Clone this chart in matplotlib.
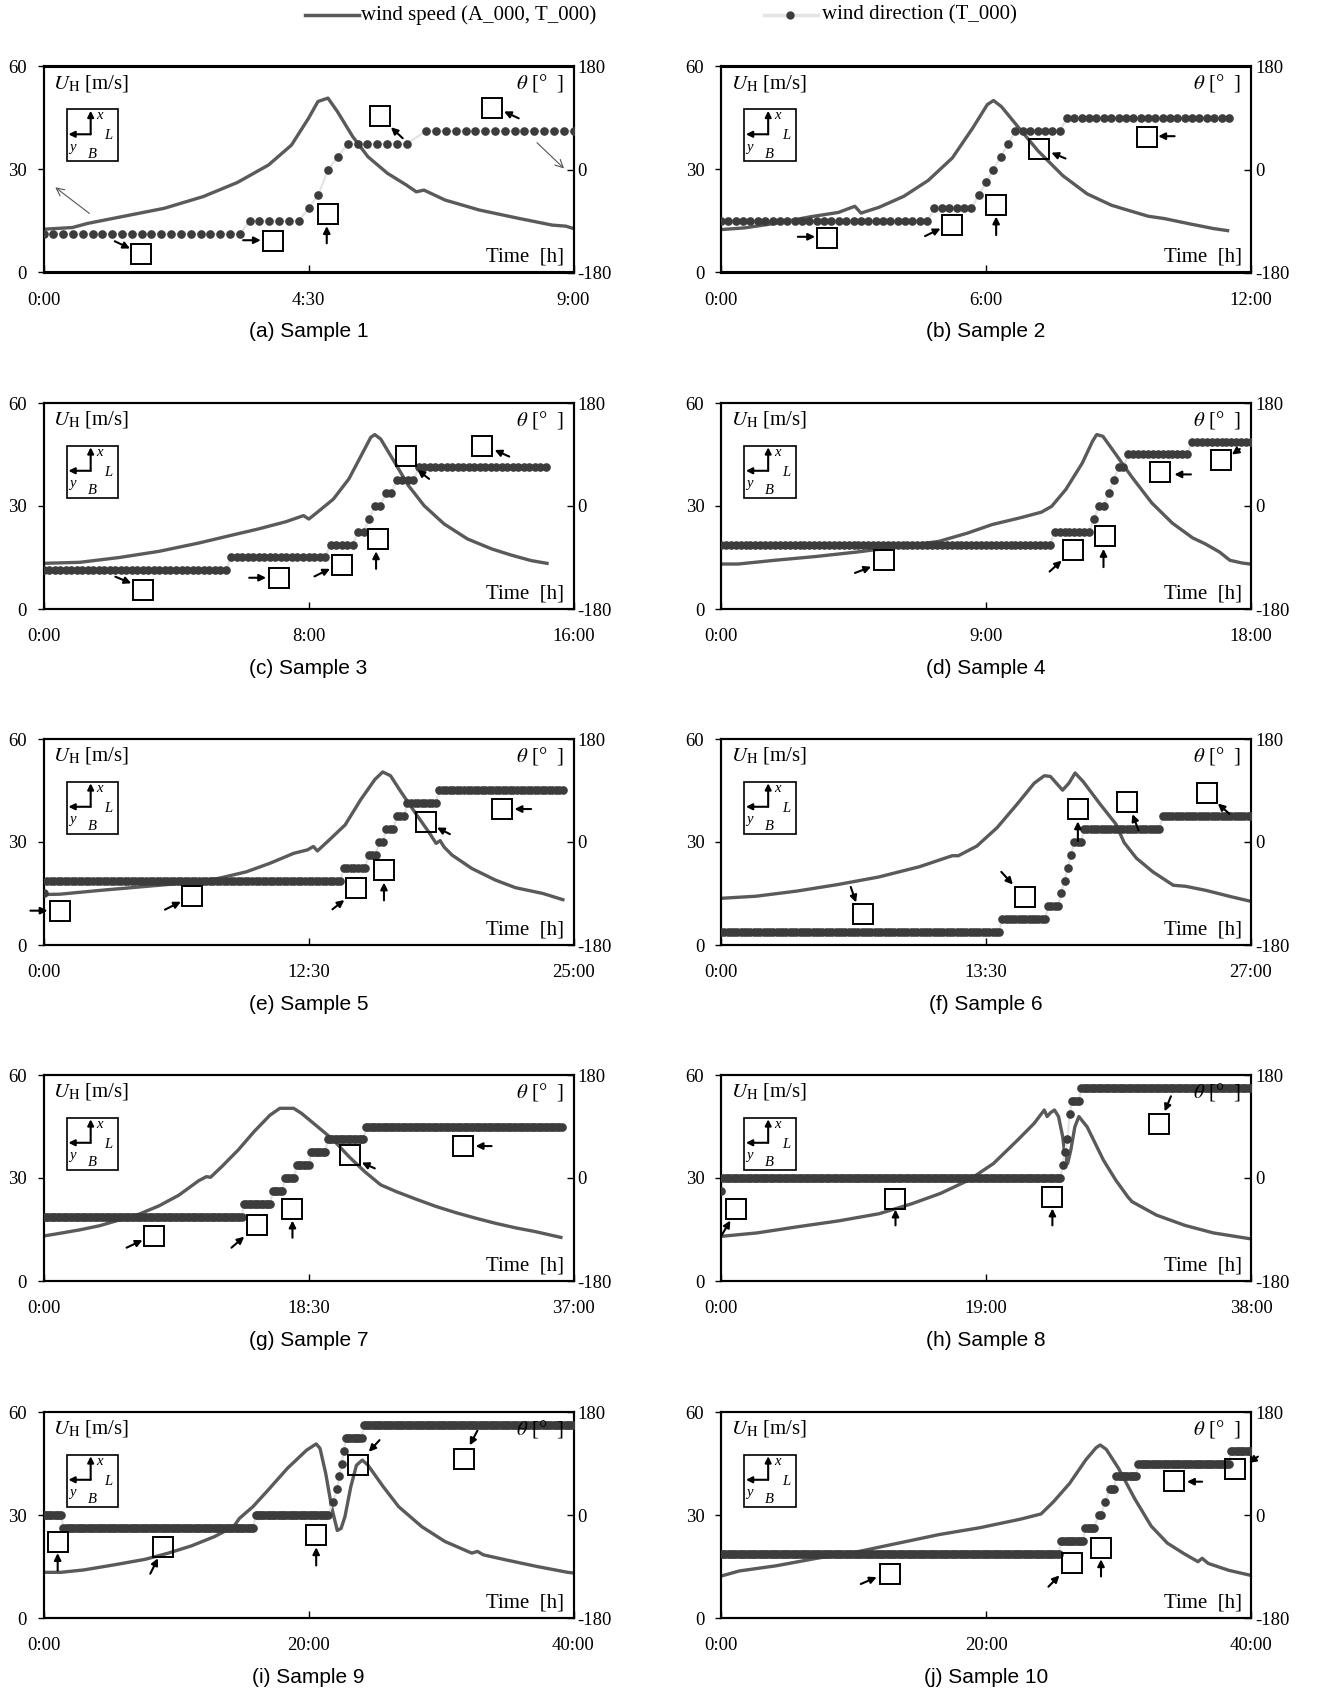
"""Wind speed / wind direction time histories for the ten typhoon samples."""
import numpy as np
import matplotlib
matplotlib.use("Agg")
import matplotlib.pyplot as plt
from matplotlib.lines import Line2D
from matplotlib.patches import Rectangle

plt.rcParams["font.family"] = ["Liberation Serif", "DejaVu Serif"]
plt.rcParams["mathtext.fontset"] = "stix"
plt.rcParams["axes.unicode_minus"] = False

# ---------------------------------------------------------------- data
CAPTIONS = ["(a) Sample 1", "(b) Sample 2", "(c) Sample 3", "(d) Sample 4",
            "(e) Sample 5", "(f) Sample 6", "(g) Sample 7", "(h) Sample 8",
            "(i) Sample 9", "(j) Sample 10"]
DURATION_H = [9, 12, 16, 18, 25, 27, 37, 38, 40, 40]

# wind speed U_H [m/s] (time in hours)
SPEED_A_T = [0, 0.49, 0.75, 1.4, 2.05, 2.71, 3.29, 3.82, 4.21, 4.5, 4.66, 4.83, 4.99, 5.25,
             5.51, 5.84, 6.16, 6.33, 6.46, 6.82, 7.4, 8.06, 8.64, 8.87, 9.0]
SPEED_A_U = [12.6, 13.1, 14.3, 16.5, 18.7, 22.1, 26.2, 31.3, 37.1, 44.9, 49.8, 50.8, 46.9, 39.6,
             33.7, 28.9, 25.5, 23.5, 24.0, 21.1, 18.2, 15.8, 13.8, 13.5, 12.8]
SPEED_B_T = [0, 0.54, 1.27, 2.01, 2.66, 3.03, 3.17, 3.58, 4.14, 4.69, 5.24, 5.7, 6.03, 6.17,
             6.35, 6.72, 7.18, 7.74, 8.29, 8.84, 9.12, 9.67, 10.04, 10.6, 11.15, 11.47]
SPEED_B_U = [12.5, 13.0, 14.4, 16.2, 17.5, 19.3, 17.3, 19.0, 22.2, 26.8, 33.4, 42.1, 48.9, 50.1,
             48.3, 42.5, 35.4, 28.2, 22.9, 19.6, 18.5, 16.4, 15.7, 14.2, 12.8, 12.2]
SPEED_C_T = [0, 1.1, 2.29, 3.49, 4.68, 5.64, 6.48, 7.31, 7.85, 8.01, 8.27, 8.75, 9.22, 9.64,
             9.88, 10.0, 10.18, 10.54, 11.02, 11.49, 12.09, 12.8, 13.53, 14.12, 14.72, 15.2]
SPEED_C_U = [13.3, 13.6, 15.0, 16.8, 19.2, 21.4, 23.3, 25.4, 27.2, 26.2, 28.2, 32.0, 37.9, 45.6,
             50.0, 50.8, 49.5, 43.7, 35.9, 30.1, 24.8, 20.4, 17.5, 15.7, 14.1, 13.3]
SPEED_D_T = [0, 0.58, 1.84, 3.23, 4.62, 6.01, 7.4, 8.37, 9.21, 10.18, 10.88, 11.23, 11.71, 12.27,
             12.62, 12.76, 12.97, 13.38, 13.94, 14.63, 15.33, 16.02, 16.44, 16.93, 17.28, 17.69, 17.97]
SPEED_D_U = [13.1, 13.1, 14.2, 15.3, 16.6, 18.1, 19.7, 22.1, 24.6, 26.6, 28.2, 29.9, 34.8, 42.5,
             48.9, 50.8, 50.3, 45.4, 38.6, 30.9, 25.0, 20.7, 19.0, 16.6, 14.2, 13.4, 13.1]
SPEED_E_T = [0, 0.78, 2.65, 4.52, 6.39, 8.25, 9.56, 10.68, 11.8, 12.45, 12.73, 12.92, 13.48, 14.23,
             14.97, 15.63, 16.0, 16.37, 16.84, 17.59, 18.15, 18.52, 18.71, 18.9, 19.27, 20.2, 21.32,
             22.26, 23.56, 24.5]
SPEED_E_U = [14.7, 14.8, 15.9, 16.9, 17.9, 19.4, 21.3, 23.8, 26.7, 27.7, 28.7, 27.4, 30.6, 35.0,
             42.4, 48.2, 50.4, 49.3, 44.8, 38.0, 33.1, 29.6, 30.4, 28.5, 26.2, 22.3, 18.9,
             16.7, 15.0, 13.2]
SPEED_F_T = [0, 1.77, 3.86, 5.94, 8.03, 10.11, 11.78, 12.09, 13.03, 14.07, 15.11, 15.95, 16.47,
             16.78, 17.4, 17.72, 18.04, 18.45, 19.29, 20.12, 20.54, 21.16, 22.0, 23.04, 23.67,
             24.71, 25.96, 27.0]
SPEED_F_U = [13.6, 14.2, 15.7, 17.6, 19.8, 22.8, 26.0, 26.0, 28.8, 34.2, 41.2, 47.1, 49.3,
             49.1, 45.1, 47.1, 50.1, 47.6, 41.2, 35.2, 29.8, 25.3, 21.3, 17.4, 17.1,
             15.9, 14.1, 12.7]
SPEED_G_T = [0, 1.16, 2.54, 3.92, 5.31, 6.69, 8.07, 9.45, 10.83, 11.38, 11.66, 12.49, 13.6, 14.7,
             15.81, 16.5, 17.46, 18.02, 19.12, 20.23, 21.33, 22.44, 23.54, 24.65, 26.03, 27.41,
             28.79, 30.17, 31.56, 32.94, 34.32, 36.12]
SPEED_G_U = [13.1, 13.9, 14.9, 16.1, 17.8, 19.5, 21.9, 25.0, 29.2, 30.4, 30.2, 33.5, 38.2, 43.5,
             48.3, 50.3, 50.3, 48.8, 45.0, 41.1, 36.2, 31.8, 28.0, 26.0, 23.8, 21.7,
             19.9, 18.3, 16.8, 15.5, 14.4, 12.7]
SPEED_H_T = [0, 2.57, 5.5, 8.42, 11.34, 13.68, 15.73, 17.77, 19.53, 21.28, 22.45, 23.18, 23.38,
             23.62, 23.91, 24.2, 24.5, 24.64, 24.85, 25.08, 25.37, 25.66, 26.25, 27.42, 28.3,
             29.17, 29.47, 31.22, 33.26, 35.31, 37.94]
SPEED_H_U = [13.0, 14.0, 15.8, 17.5, 19.6, 22.5, 25.5, 29.4, 34.2, 41.1, 45.9, 49.8, 47.9,
             49.0, 49.8, 47.9, 42.0, 37.2, 34.2, 38.1, 44.9, 47.9, 44.9, 35.2, 29.4,
             24.5, 23.1, 19.2, 16.2, 14.0, 12.3]
SPEED_I_T = [0, 1.3, 3.04, 5.36, 7.68, 9.42, 11.16, 12.9, 14.35, 14.78, 15.8, 16.96, 18.41, 19.86,
             20.58, 20.87, 21.3, 21.74, 22.17, 22.46, 22.75, 23.19, 23.62, 24.06, 24.49, 25.65,
             26.81, 28.55, 30.29, 32.32, 32.75, 33.19, 34.93, 37.25, 39.57, 40.0]
SPEED_I_U = [13.3, 13.3, 14.0, 15.5, 17.1, 18.9, 21.0, 23.7, 26.6, 29.0, 32.4, 37.3, 43.6, 48.9,
             50.7, 49.4, 42.1, 32.4, 25.5, 26.1, 29.5, 38.2, 44.5, 46.0, 44.5, 38.2,
             32.4, 26.6, 22.3, 18.9, 19.4, 18.4, 16.9, 15.0, 13.3, 13.1]
SPEED_J_T = [0, 1.38, 4.15, 7.23, 10.31, 13.38, 16.46, 19.54, 22.62, 24.15, 25.08, 26.31, 27.54,
             28.31, 28.62, 29.08, 30.0, 31.23, 32.46, 33.69, 34.92, 36.0, 36.31, 36.77, 38.31, 40.0]
SPEED_J_U = [12.2, 13.7, 15.2, 17.4, 19.3, 21.8, 24.3, 26.3, 28.8, 30.3, 33.8, 39.2, 46.1,
             49.6, 50.4, 49.1, 43.6, 34.7, 26.8, 21.8, 18.8, 16.4, 17.4, 15.9, 13.9, 12.4]

# wind direction theta [deg]: (first minute, last minute, angle), one record every 10 min
DIR_A = [(0, 200, -112.5), (210, 260, -90), (270, 270, -67.5), (280, 280, -45),
         (290, 290, 0), (300, 300, 22.5), (310, 370, 45), (390, 540, 67.5)]
DIR_B = [(0, 280, -90), (290, 340, -67.5), (350, 350, -45), (360, 360, -22.5), (370, 370, 0),
         (380, 380, 22.5), (390, 390, 45), (400, 460, 67.5), (470, 690, 90)]
DIR_C = [(0, 330, -112.5), (340, 510, -90), (520, 560, -67.5), (570, 580, -45),
         (590, 590, -22.5), (600, 610, 0), (620, 630, 22.5), (640, 670, 45), (680, 910, 67.5)]
DIR_D = [(0, 670, -67.5), (680, 750, -45), (760, 760, -22.5), (770, 780, 0), (790, 790, 22.5),
         (800, 800, 45), (810, 820, 67.5), (830, 950, 90), (960, 1080, 112.5)]
DIR_E = [(0, 0, -90), (10, 840, -67.5), (850, 910, -45), (920, 940, -22.5), (950, 960, 0),
         (970, 990, 22.5), (1000, 1020, 45), (1030, 1110, 67.5), (1120, 1470, 90)]
DIR_F = [(0, 850, -157.5), (860, 990, -135), (1000, 1030, -112.5), (1040, 1040, -90),
         (1050, 1050, -67.5), (1060, 1060, -45), (1070, 1070, -22.5), (1080, 1100, 0),
         (1110, 1340, 22.5), (1350, 1620, 45)]
DIR_G = [(0, 830, -67.5), (840, 950, -45), (960, 1000, -22.5), (1010, 1050, 0),
         (1060, 1110, 22.5), (1120, 1180, 45), (1190, 1340, 67.5), (1350, 2170, 90)]
DIR_H = [(0, 0, -22.5), (10, 1460, 0), (1470, 1470, 22.5), (1480, 1480, 45),
         (1490, 1490, 67.5), (1500, 1500, 112.5), (1510, 1540, 135), (1550, 2280, 157.5)]
DIR_I = [(0, 80, 0), (90, 950, -22.5), (960, 1290, 0), (1310, 1310, 22.5), (1330, 1330, 45),
         (1340, 1340, 67.5), (1350, 1350, 90), (1360, 1360, 112.5), (1370, 1440, 135),
         (1450, 2400, 157.5)]
DIR_J = [(0, 1530, -67.5), (1540, 1640, -45), (1650, 1690, -22.5), (1710, 1720, 0),
         (1740, 1740, 22.5), (1760, 1780, 45), (1790, 1880, 67.5), (1890, 2300, 90),
         (2310, 2400, 112.5)]

SPEEDS = [(SPEED_A_T, SPEED_A_U), (SPEED_B_T, SPEED_B_U), (SPEED_C_T, SPEED_C_U),
          (SPEED_D_T, SPEED_D_U), (SPEED_E_T, SPEED_E_U), (SPEED_F_T, SPEED_F_U),
          (SPEED_G_T, SPEED_G_U), (SPEED_H_T, SPEED_H_U), (SPEED_I_T, SPEED_I_U),
          (SPEED_J_T, SPEED_J_U)]
DIRECTIONS = [DIR_A, DIR_B, DIR_C, DIR_D, DIR_E, DIR_F, DIR_G, DIR_H, DIR_I, DIR_J]

# ------------------------------------------------------ callout layout
# blank picture boxes: (box x, box y, arrow tail x, tail y, head x, head y) in (h, m/s)
CALLOUTS = [
    [(1.66, 5.5, 1.21, 9.1, 1.47, 7.0), (3.89, 9.3, 3.39, 9.4, 3.69, 9.4),
     (4.83, 16.9, 4.81, 8.5, 4.81, 13.5), (5.71, 45.7, 6.10, 39.1, 5.90, 42.3),
     (7.62, 48.0, 8.07, 44.9, 7.82, 46.9)],
    [(2.40, 10.1, 1.74, 10.4, 2.13, 10.4), (5.24, 13.7, 4.62, 10.6, 4.97, 12.8),
     (6.23, 19.6, 6.23, 10.9, 6.23, 16.3), (7.20, 36.0, 7.80, 33.2, 7.48, 34.9),
     (9.64, 39.6, 10.27, 39.7, 9.90, 39.7)],
    [(3.01, 5.5, 2.17, 9.4, 2.65, 7.5), (7.10, 9.1, 6.21, 9.1, 6.72, 9.1),
     (9.02, 12.9, 8.18, 9.5, 8.65, 11.7), (10.11, 20.3, 10.04, 11.7, 10.04, 16.8),
     (10.93, 44.6, 11.64, 37.9, 11.29, 40.5), (13.25, 47.6, 14.06, 44.4, 13.62, 46.3)],
    [(5.52, 14.2, 4.55, 10.5, 5.10, 12.3), (11.94, 17.3, 11.16, 10.9, 11.57, 14.1),
     (13.03, 21.3, 12.99, 12.2, 12.99, 17.5), (14.91, 39.8, 15.96, 39.2, 15.40, 39.2),
     (16.97, 43.3, 17.62, 46.6, 17.35, 45.0)],
    [(0.78, 10.0, -0.62, 10.0, 0.19, 10.0), (7.02, 14.2, 5.73, 10.3, 6.48, 12.6),
     (14.75, 16.7, 13.63, 10.4, 14.19, 13.1), (16.06, 21.7, 16.06, 13.0, 16.06, 18.2),
     (18.02, 35.9, 19.17, 32.3, 18.56, 34.2), (21.62, 39.6, 23.00, 39.6, 22.22, 39.6)],
    [(7.24, 9.0, 6.61, 16.9, 6.88, 12.4), (15.47, 14.0, 14.28, 21.3, 14.87, 17.6),
     (18.18, 39.5, 18.18, 30.3, 18.18, 36.0), (20.66, 41.7, 21.27, 33.4, 20.96, 38.1),
     (24.77, 44.4, 25.90, 38.2, 25.31, 41.2)],
    [(7.74, 13.1, 5.80, 9.7, 6.91, 11.9), (14.89, 16.3, 13.12, 9.7, 14.01, 12.9),
     (17.38, 21.0, 17.38, 12.6, 17.38, 17.6), (21.39, 36.6, 23.13, 32.8, 22.22, 34.5),
     (29.32, 39.3, 31.28, 39.3, 30.17, 39.3)],
    [(1.05, 21.0, 0.03, 13.2, 0.67, 17.6), (12.51, 23.9, 12.51, 16.2, 12.51, 20.8),
     (23.76, 24.5, 23.76, 16.2, 23.76, 21.1), (31.42, 45.7, 32.26, 53.8, 31.81, 49.4)],
    [(1.07, 22.2, 1.07, 13.8, 1.07, 18.9), (9.01, 20.8, 8.06, 12.9, 8.64, 17.4),
     (20.58, 24.1, 20.58, 15.3, 20.58, 20.6), (23.74, 44.7, 25.36, 51.8, 24.55, 48.4),
     (31.74, 46.2, 32.75, 54.6, 32.17, 50.3)],
    [(12.74, 12.9, 10.55, 9.9, 11.75, 11.9), (26.49, 15.9, 24.71, 9.1, 25.54, 12.4),
     (28.68, 20.4, 28.68, 12.1, 28.68, 17.1), (34.22, 40.0, 36.31, 39.7, 35.17, 39.7),
     (38.83, 43.4, 40.52, 47.0, 39.85, 45.2)],
]

SPEED_COLOR = "#5a5a5a"
DIR_DOT = "#3c3c3c"
DIR_LINE = "#e4e4e4"
W, H = 1327, 1692


def direction_points(runs):
    t, d = [], []
    for first, last, deg in runs:
        minutes = np.arange(first, last + 1, 10)
        t.extend(minutes / 60.0)
        d.extend([deg] * len(minutes))
    return np.array(t), np.array(d)


def hhmm(hours):
    h = int(hours)
    return f"{h}:{int(round((hours - h) * 60)):02d}"


def draw_axis_icon(ax):
    tr = ax.transAxes
    ax.add_patch(Rectangle((0.044, 0.541), 0.097, 0.252, transform=tr, fill=False,
                           lw=1.2, ec="k", zorder=6))
    for end in [(0.089, 0.785), (0.047, 0.671)]:
        ax.annotate("", xy=end, xytext=(0.089, 0.671), xycoords=tr, textcoords=tr,
                    arrowprops=dict(arrowstyle="-|>", lw=1.5, color="k",
                                    mutation_scale=9, shrinkA=0, shrinkB=0), zorder=6)
    for s, x, y in [("x", 0.106, 0.762), ("y", 0.054, 0.608), ("L", 0.123, 0.664),
                    ("B", 0.092, 0.575)]:
        ax.text(x, y, s, transform=tr, ha="center", va="center", fontsize=10.5,
                style="italic", zorder=6)


fig = plt.figure(figsize=(W / 100, H / 100), dpi=100)

col_x0 = [43.5 / W, 721 / W]
ax_w = 530 / W
ax_h = 206 / H
row_bottom_px = [272.5, 609, 945, 1281, 1618]

for i in range(10):
    row, col = divmod(i, 2)
    bottom = 1 - row_bottom_px[row] / H
    ax = fig.add_axes([col_x0[col], bottom, ax_w, ax_h])
    ax2 = ax.twinx()
    T = DURATION_H[i]

    st, su = SPEEDS[i]
    ax.plot(st, su, color=SPEED_COLOR, lw=2.4, solid_joinstyle="round")
    dt, dd = direction_points(DIRECTIONS[i])
    ax2.plot(dt, dd, color=DIR_LINE, lw=1.6, zorder=2)
    ax2.plot(dt, dd, ls="none", marker="o", ms=5.2, mfc=DIR_DOT, mec=DIR_DOT, zorder=3)

    ax.set_xlim(0, T)
    ax.set_ylim(0, 60)
    ax2.set_ylim(-180, 180)
    ax.set_xticks([0, T / 2, T])
    ax.set_xticklabels([hhmm(v) for v in (0, T / 2, T)])
    ax.set_yticks([0, 30, 60])
    ax2.set_yticks([-180, 0, 180])
    ax.tick_params(axis="x", direction="in", length=5, width=1, pad=14, labelsize=13.5)
    ax.tick_params(axis="y", direction="out", length=4, width=1, pad=8, labelsize=13.5)
    ax2.tick_params(axis="y", direction="in", length=5, width=1, pad=3, labelsize=13.5)
    for a in (ax, ax2):
        for sp in a.spines.values():
            sp.set_linewidth(1.5)
            sp.set_color("k")

    # blank picture boxes with pointer arrows
    for bx, by, tx, ty, hx, hy in CALLOUTS[i]:
        ax2.plot([bx], [by], transform=ax.transData, ls="none", marker="s", ms=14,
                 mfc="none", mec="k", mew=1.4, zorder=7, clip_on=False)
        ax2.annotate("", xy=(hx, hy), xytext=(tx, ty), xycoords=ax.transData,
                     textcoords=ax.transData, annotation_clip=False,
                     arrowprops=dict(arrowstyle="-|>", lw=1.5, color="k",
                                     mutation_scale=10, shrinkA=0, shrinkB=0), zorder=7)

    if i == 0:
        for tx, ty, hx, hy in [(0.78, 17.2, 0.2, 24.8), (8.38, 37.8, 8.84, 30.3)]:
            ax2.annotate("", xy=(hx, hy), xytext=(tx, ty), xycoords=ax.transData,
                         textcoords=ax.transData,
                         arrowprops=dict(arrowstyle="->", lw=0.8, color="#555555",
                                         mutation_scale=14, shrinkA=0, shrinkB=0))

    draw_axis_icon(ax2)
    ax2.text(0.018, 0.919, r"$U_{\mathrm{H}}$ [m/s]", transform=ax2.transAxes,
             ha="left", va="center", fontsize=15)
    ax2.text(0.982, 0.919, r"$\theta$ [°  ]", transform=ax2.transAxes,
             ha="right", va="center", fontsize=15)
    ax2.text(0.983, 0.073, "Time  [h]", transform=ax2.transAxes,
             ha="right", va="center", fontsize=15)

    fig.text(col_x0[col] + ax_w / 2, 1 - (row_bottom_px[row] + 59) / H, CAPTIONS[i],
             ha="center", va="center", fontsize=15, family="Liberation Sans")

# legend strip across the top
ly = 1 - 15 / H
fig.add_artist(Line2D([305 / W, 359 / W], [ly, ly], color=SPEED_COLOR, lw=2.5))
fig.text(361 / W, ly, "wind speed (A_000, T_000)", ha="left", va="center", fontsize=15)
fig.add_artist(Line2D([764 / W, 818 / W], [ly, ly], color=DIR_LINE, lw=2.5))
fig.add_artist(Line2D([790 / W], [ly], ls="none", marker="o", ms=5, color=DIR_DOT))
fig.text(822 / W, ly, "wind direction (T_000)", ha="left", va="center", fontsize=15)

fig.savefig("out.png", dpi=100)
